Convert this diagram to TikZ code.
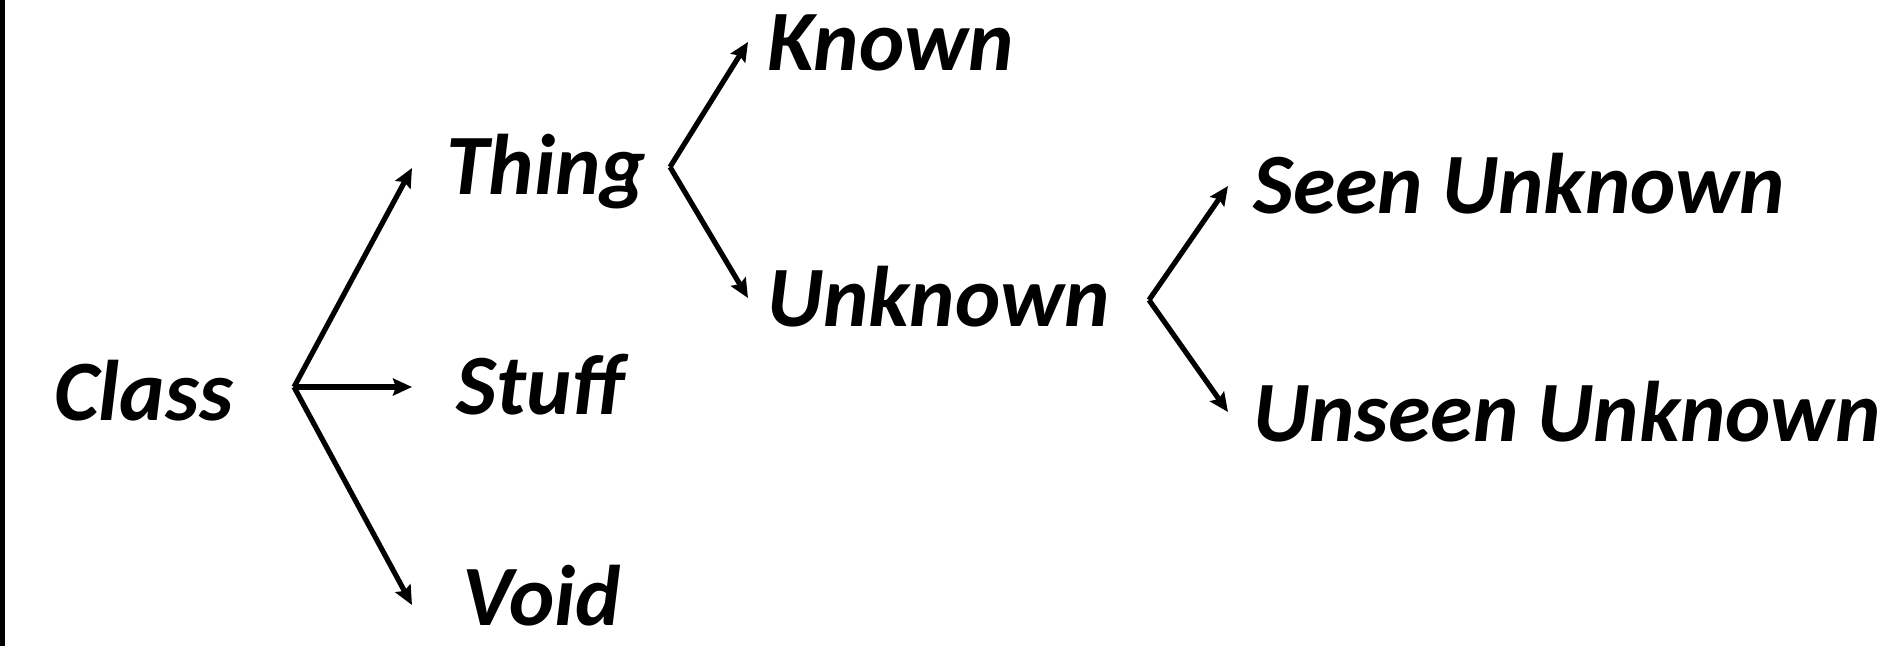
\documentclass[tikz,border=0pt]{standalone}
\usepackage{fontspec}
\setmainfont{Carlito}
\usetikzlibrary{arrows.meta}
\begin{document}
\begin{tikzpicture}[x=1pt,y=-1pt,
  lbl/.style={anchor=base west,inner sep=0pt,font=\fontsize{86}{90}\selectfont\bfseries\itshape},
  arr/.style={line width=5.2pt,-{Stealth[length=19pt,width=17pt,inset=3pt]},line cap=butt,line join=miter}]
\useasboundingbox (0,0) rectangle (1880,646);
\fill[black] (0,0) rectangle (4.5,646);
% labels
\node[lbl] (class) at (54,420) {Class};
\node[lbl] (thing) at (446,194) {Thing};
\node[lbl] (stuff) at (456,414) {Stuff};
\node[lbl] (void) at (462,625) {Void};
\node[lbl] (known) at (767,70) {Known};
\node[lbl] (unknown) at (767,326) {Unknown};
\node[lbl] (seen) at (1253,213) {Seen Unknown};
\node[lbl] (unseen) at (1253,441) {Unseen Unknown};
% fork points and tips
\coordinate (f1) at (294,387);
\coordinate (tThing) at (412,168);
\coordinate (tStuff) at (412,387);
\coordinate (tVoid) at (412,605);
\coordinate (f2) at (670,167);
\coordinate (tKnown) at (748,42);
\coordinate (tUnknown) at (748,298);
\coordinate (f3) at (1149,300);
\coordinate (tSeen) at (1228,186);
\coordinate (tUnseen) at (1228,412);
\draw[arr] (f1) -- (tThing);
\draw[arr] (f1) -- (tStuff);
\draw[arr] (f1) -- (tVoid);
\draw[arr] (f2) -- (tKnown);
\draw[arr] (f2) -- (tUnknown);
\draw[arr] (f3) -- (tSeen);
\draw[arr] (f3) -- (tUnseen);
\end{tikzpicture}
\end{document}
